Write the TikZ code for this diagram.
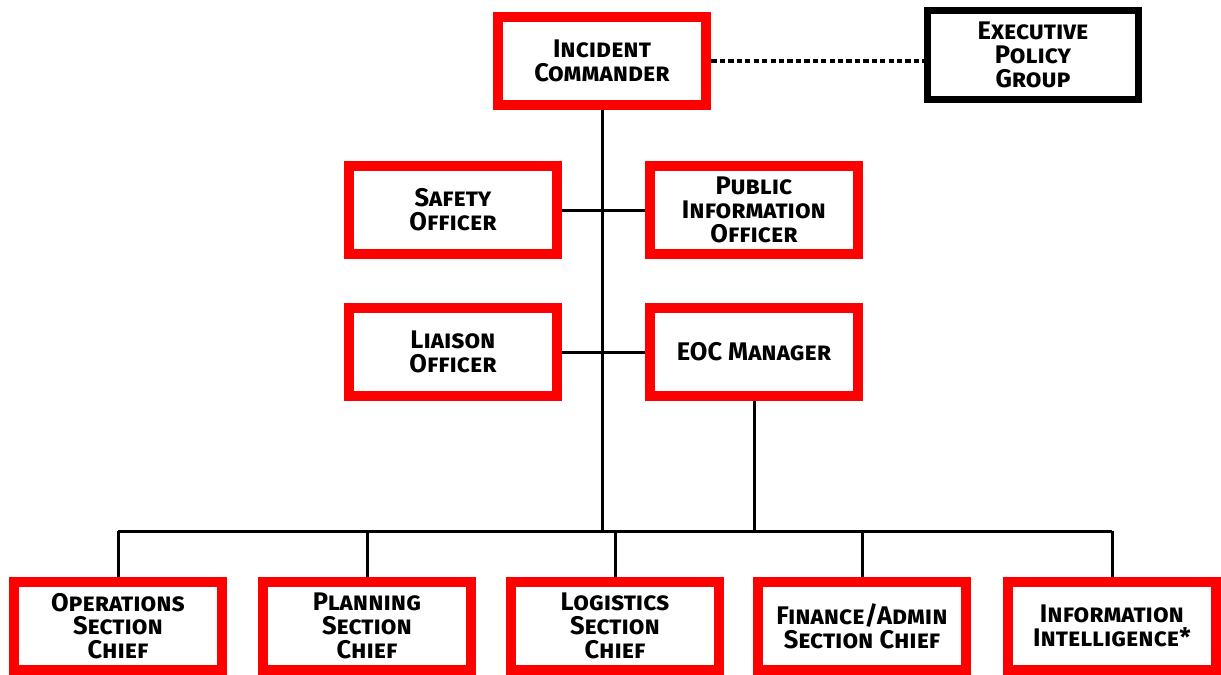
\documentclass[tikz,border=0pt]{standalone}
\usepackage{fontspec}
\setmainfont{Fira Sans}
\usetikzlibrary{positioning}

\begin{document}
\begin{tikzpicture}[x=0.02cm, y=-0.02cm,
      role/.style ={rectangle, draw=red, line width=0.2cm, fill=white, align=center, minimum width=4.18cm, minimum height=1.77cm, inner sep=0pt, font=\fontsize{14.5}{13.5}\selectfont\bfseries\scshape},
      exec/.style ={role, draw=black, line width=0.14cm, minimum width=4.22cm, minimum height=1.8cm},
      link/.style ={line width=0.06cm},
    ]
    \useasboundingbox (0,0) rectangle (1221,674);

    \node [role] (ic) at (602,61) {Incident\\Commander} ;
    \node [exec] (epg) at (1033,55) {Executive\\Policy\\Group} ;
    \node [role] (safety) at (453,210) {Safety\\Officer} ;
    \node [role] (pio) at (754,210) {Public\\Information\\Officer} ;
    \node [role] (liaison) at (453,352) {Liaison\\Officer} ;
    \node [role] (eoc) at (754,352) {EOC Manager} ;

    \node [role] (ops) at (118,626) {Operations\\Section\\Chief} ;
    \node [role] (plan) at (367,626) {Planning\\Section\\Chief} ;
    \node [role] (logs) at (615,626) {Logistics\\Section\\Chief} ;
    \node [role] (fin) at (862,626) {Finance/Admin\\Section Chief} ;
    \node [role] (info) at (1112,626) {Information\\Intelligence*} ;

    \coordinate (bus) at (0,531) ;

    \draw [link, line width=0.07cm, dash pattern=on 3pt off 1.8pt] (ic) -- (epg.west |- ic) ;
    \draw [link] (ic.south) -- (ic.south |- bus) ;
    \draw [link] (safety) -- (pio) ;
    \draw [link] (liaison) -- (eoc) ;
    \draw [link] (eoc.south) -- (eoc.south |- bus) ;
    \draw [link] (ops.north |- bus) -- (info.north |- bus) ;
    \foreach \n in {ops, plan, logs, fin, info}
      \draw [link] (\n.north) -- (\n.north |- bus) ;
  \end{tikzpicture}
\end{document}
